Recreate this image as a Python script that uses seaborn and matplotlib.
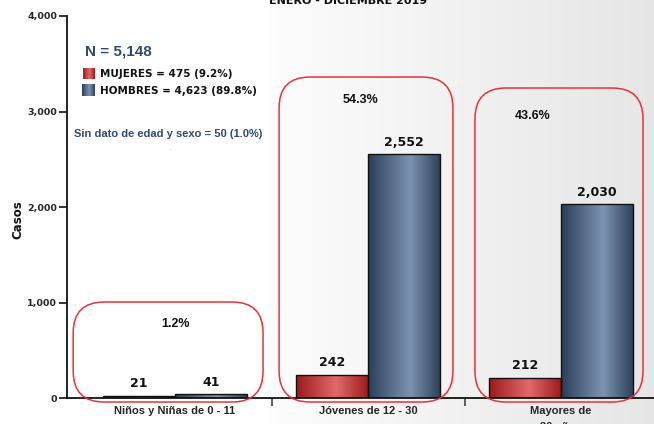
import numpy as np
import pandas as pd
import matplotlib
matplotlib.use("Agg")
import matplotlib.pyplot as plt
import seaborn as sns
from matplotlib.colors import LinearSegmentedColormap
from matplotlib.patches import FancyBboxPatch
from matplotlib.ticker import FuncFormatter

# ---------------- data ----------------
categories = ["Niños y Niñas de 0 - 11", "Jóvenes de 12 - 30", "Mayores de\n30 años"]
series = ["MUJERES", "HOMBRES"]
mujeres = [21, 242, 212]
hombres = [41, 2552, 2030]
porcentajes = ["1.2%", "54.3%", "43.6%"]
legend_labels = ["MUJERES = 475 (9.2%)", "HOMBRES = 4,623 (89.8%)"]
total_label = "N = 5,148"
sin_dato_label = "Sin dato de edad y sexo = 50 (1.0%)"
title = "ENERO - DICIEMBRE 2019"
y_label = "Casos"
yticks = [0, 1000, 2000, 3000, 4000]

# ---------------- style ----------------
sns.set_theme(style="white")
plt.rcParams["font.family"] = ["DejaVu Sans"]

W, H = 654, 424
fig = plt.figure(figsize=(W / 100, H / 100), dpi=100)
fig.patch.set_facecolor("white")


def px(x, y):
    return x / W, 1 - y / H


# background gradient
bg = fig.add_axes([0, 0, 1, 1], zorder=-10)
bg.axis("off")
xs = np.arange(W)
vals = np.where(xs < 270, 1.0, np.interp(xs, [270, 654], [0.99, 0.90]))
img = np.repeat(np.tile(vals, (2, 1))[..., None], 3, axis=2)
bg.imshow(img, aspect="auto", extent=[0, 1, 0, 1], interpolation="bilinear")
bg.set_xlim(0, 1)
bg.set_ylim(0, 1)

# main axes
ax = fig.add_axes([67 / W, 26 / H, 587 / W, 382 / H])
ax.set_facecolor("none")

df = pd.DataFrame({
    "categoria": categories * 2,
    "sexo": [series[0]] * 3 + [series[1]] * 3,
    "casos": mujeres + hombres,
})
sns.barplot(data=df, x="categoria", y="casos", hue="sexo", order=categories,
            hue_order=series, palette=["#c03030", "#4a6080"], width=0.75,
            edgecolor="#111111", linewidth=1.0, errorbar=None, legend=False, ax=ax)

red_cmap = LinearSegmentedColormap.from_list("r", [(0, "#9a1a1a"), (0.55, "#e36a6a"), (1, "#9a1a1a")])
blue_cmap = LinearSegmentedColormap.from_list("b", [(0, "#2b3e58"), (0.58, "#7c94b2"), (1, "#2b3e58")])
grad = np.linspace(0, 1, 256)[None, :]

for cont, cmap in zip(ax.containers, [red_cmap, blue_cmap]):
    for bar in cont:
        x0, y0 = bar.get_x(), bar.get_y()
        w, h = bar.get_width(), bar.get_height()
        im = ax.imshow(grad, cmap=cmap, extent=[x0, x0 + w, y0, y0 + h],
                       aspect="auto", zorder=bar.get_zorder() - 0.01,
                       interpolation="bilinear")
        im.set_clip_path(bar)
        bar.set_facecolor("none")
    ax.bar_label(cont, labels=[f"{int(b.get_height()):,}" for b in cont],
                 padding=4, fontsize=9, fontweight="bold", color="#111111")

ax.set_xlim(-0.56, 2.482)
ax.set_ylim(0, 4000)
ax.set_yticks(yticks)
ax.yaxis.set_major_formatter(FuncFormatter(lambda v, p: f"{int(v):,}"))
for lab in ax.get_yticklabels():
    lab.set_fontweight("bold")
ax.tick_params(axis="y", which="major", length=6, width=1.3, color="#222222",
               labelsize=6.8, pad=1, left=True)

ax.set_xticks(range(len(categories)))
ax.set_xticklabels(categories, fontfamily="Liberation Sans", fontweight="bold",
                   fontsize=8, linespacing=1.7)
ax.set_xticks([0.5, 1.5], minor=True)
ax.tick_params(axis="x", which="major", length=0, pad=6)
ax.tick_params(axis="x", which="minor", length=6, width=1.2, color="#444444",
               bottom=True, direction="out")

for s in ["top", "right"]:
    ax.spines[s].set_visible(False)
for s in ["left", "bottom"]:
    ax.spines[s].set_color("#111111")
    ax.spines[s].set_linewidth(1.3)

ax.set_xlabel("")
ax.set_ylabel("")
fig.text(*px(17.5, 220), y_label, rotation=90, ha="center", va="center",
         fontsize=8.5, fontweight="bold", color="#111111")

# rounded red boxes (group highlights)
units_per_px_x = 1 / 193
units_per_px_y = 4000 / 382
aspect = units_per_px_y / units_per_px_x
box_layout = [(-0.528, 0.456, 1005), (-0.461, 0.44, 3361), (-0.446, 0.425, 3246)]
for i, (l, r, top) in enumerate(box_layout):
    bottom = -42
    p = FancyBboxPatch((i + l, bottom), r - l, top - bottom,
                       boxstyle="round,pad=0,rounding_size=0.16",
                       mutation_aspect=aspect, fc="none", ec="#e8323a",
                       lw=1.1, clip_on=False, zorder=5)
    ax.add_patch(p)

pct_pos = [(0.0, 775), (0.959, 3120), (1.855, 2953)]
for (x, y), t in zip(pct_pos, porcentajes):
    ax.text(x, y, t, ha="center", va="center", fontsize=9, fontweight="bold",
            fontfamily="Liberation Sans", color="#111111")

# legend-like annotations
fig.text(*px(85, 52), total_label, ha="left", va="center", fontsize=11,
         fontweight="bold", fontfamily="Liberation Sans", color="#2f4a72")

sw_pos = [(83, 68, 12, 11), (82, 84, 12, 12)]
for (x, y, w, h), cmap, lab in zip(sw_pos, [red_cmap, blue_cmap], legend_labels):
    sax = fig.add_axes([x / W, 1 - (y + h) / H, w / W, h / H])
    sax.imshow(grad, cmap=cmap, aspect="auto", interpolation="bilinear")
    sax.set_xticks([])
    sax.set_yticks([])
    for sp in sax.spines.values():
        sp.set_visible(False)
    fig.text(*px(100, y + h / 2 + 0.5), lab, ha="left", va="center", fontsize=7.5,
             fontweight="bold", color="#111111")

fig.text(*px(74, 134), sin_dato_label, ha="left", va="center", fontsize=8,
         fontweight="bold", fontfamily="Liberation Sans", color="#2f4a72")
fig.text(*px(170, 148), ".", ha="center", va="center", fontsize=4, color="#999999")

# title (cut at top, as in the reference)
fig.text(*px(348, 4), title, ha="center", va="baseline", fontsize=8,
         fontweight="bold", color="#111111")

fig.savefig("out.png", dpi=100)
